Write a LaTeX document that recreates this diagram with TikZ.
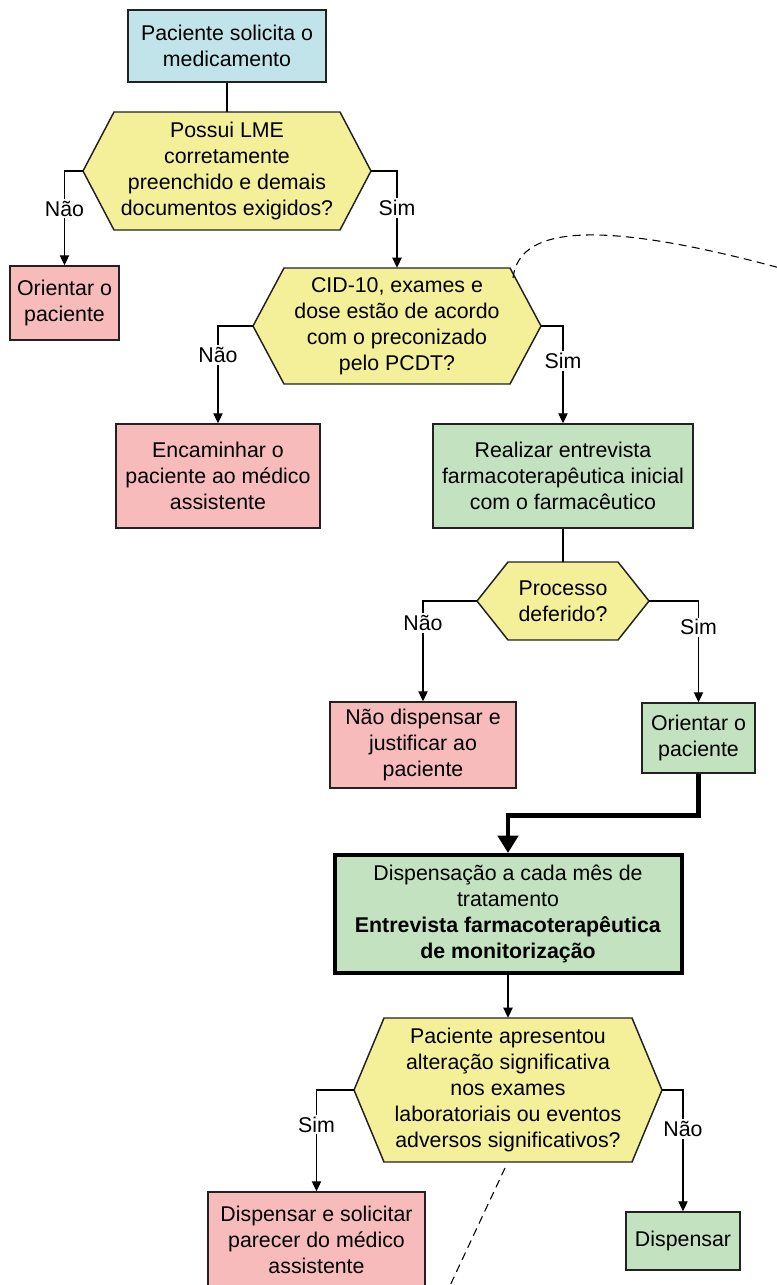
\documentclass[tikz,border=0pt]{standalone}
\usepackage{fontspec}
\setmainfont{Liberation Sans}
\usetikzlibrary{arrows.meta}
\definecolor{cblue}{HTML}{C1E4EB}
\definecolor{cyellow}{HTML}{F4EF99}
\definecolor{cpink}{HTML}{F8BBBC}
\definecolor{cgreen}{HTML}{C3E2C0}
\definecolor{cborder}{HTML}{222222}
\newcommand{\hexshape}[6]{%
  \draw[hexline, fill=#6] (#1-#3,#2) -- (#1-#3+#5,#2-#4) -- (#1+#3-#5,#2-#4) -- (#1+#3,#2) -- (#1+#3-#5,#2+#4) -- (#1-#3+#5,#2+#4) -- cycle;}
\begin{document}
\begin{tikzpicture}[x=0.75pt,y=-0.75pt,
  font=\fontsize{16}{19.5}\selectfont,
  sz/.style 2 args={minimum width=#1*0.75pt, minimum height=#2*0.75pt},
  box/.style={draw=cborder, line width=1.1pt, align=center, inner sep=0pt},
  hexline/.style={draw=cborder, line width=1.1pt},
  hexnode/.style={align=center, inner sep=0pt},
  lbl/.style={fill=white, inner sep=1.5pt},
  plain/.style={draw=black, line width=0.8pt},
  arr/.style={draw=black, line width=0.8pt, -{Triangle[length=7.5pt,width=7pt]}},
  thickarr/.style={draw=black, line width=3.5pt, line join=miter, -{Triangle[length=13pt,width=15pt]}},
  dashline/.style={draw=black, line width=0.8pt, dash pattern=on 6pt off 4pt}
]
\useasboundingbox (0,0) rectangle (776,1285);
\fill[white] (0,0) rectangle (776,1285);

% boxes
\node[box, fill=cblue, sz={198}{72}] (b1) at (227,46) {Paciente solicita o\\medicamento};
\node[box, fill=cpink, sz={109}{74}] (o1) at (64.5,303) {Orientar o\\paciente};
\node[box, fill=cpink, sz={204}{104}] (enc) at (218,476) {Encaminhar o\\paciente ao médico\\assistente};
\node[box, fill=cgreen, sz={260}{104}] (real) at (563,476) {Realizar entrevista\\farmacoterapêutica inicial\\com o farmacêutico};
\node[box, fill=cpink, sz={186}{86}] (nd) at (423,745) {Não dispensar e\\justificar ao\\paciente};
\node[box, fill=cgreen, sz={113}{70}] (or2) at (698.5,738) {Orientar o\\paciente};
\node[box, fill=cgreen, sz={347}{118}, line width=3pt, draw=black] (dp) at (508,914) {Dispensação a cada mês de\\tratamento\\\textbf{Entrevista farmacoterapêutica}\\\textbf{de monitorização}};
\node[box, fill=cpink, sz={217}{96}] (ds) at (316.5,1240) {Dispensar e solicitar\\parecer do médico\\assistente};
\node[box, fill=cgreen, sz={114}{58}] (dn) at (683,1241) {Dispensar};

% hexagons
\hexshape{227}{171}{144}{59}{31}{cyellow}
\node[hexnode, sz={288}{118}] (h1) at (227,171) {Possui LME\\corretamente\\preenchido e demais\\documentos exigidos?};
\hexshape{397}{326}{144}{58}{31}{cyellow}
\node[hexnode, sz={288}{116}] (h2) at (397,326) {CID-10, exames e\\dose estão de acordo\\com o preconizado\\pelo PCDT?};
\hexshape{563}{601}{86}{39}{31}{cyellow}
\node[hexnode, sz={172}{78}] (h3) at (563,601) {Processo\\deferido?};
\hexshape{508}{1090}{154}{72}{30}{cyellow}
\node[hexnode, sz={308}{144}] (h4) at (508,1090) {Paciente apresentou\\alteração significativa\\nos exames\\laboratoriais ou eventos\\adversos significativos?};

% connectors
\draw[plain] (b1.south) -- (h1.north);
\draw[arr] (h1.west) -| node[lbl, pos=0.7] {Não} (o1.north);
\draw[arr] (h1.east) -| node[lbl, pos=0.69] {Sim} (h2.north);
\draw[arr] (h2.west) -| node[lbl, pos=0.65] {Não} (enc.north);
\draw[arr] (h2.east) -| node[lbl, pos=0.68] {Sim} (real.north);
\draw[plain] (real.south) -- (h3.north);
\draw[arr] (h3.west) -| node[lbl, pos=0.61] {Não} (nd.north);
\draw[arr] (h3.east) -| node[lbl, pos=0.63] {Sim} (or2.north);
\draw[thickarr] (or2.south) -- ++(0,42) -| (dp.north);
\draw[arr] (dp.south) -- (h4.north);
\draw[arr] (h4.west) -| node[lbl, pos=0.67] {Sim} (ds.north);
\draw[arr] (h4.east) -| node[lbl, pos=0.66] {Não} (dn.north);

% dashed curves
\draw[dashline] (513,278) .. controls (518,238) and (565,210) .. (780,268);
\draw[dashline] (505,1168) -- (447,1292);
\end{tikzpicture}
\end{document}
